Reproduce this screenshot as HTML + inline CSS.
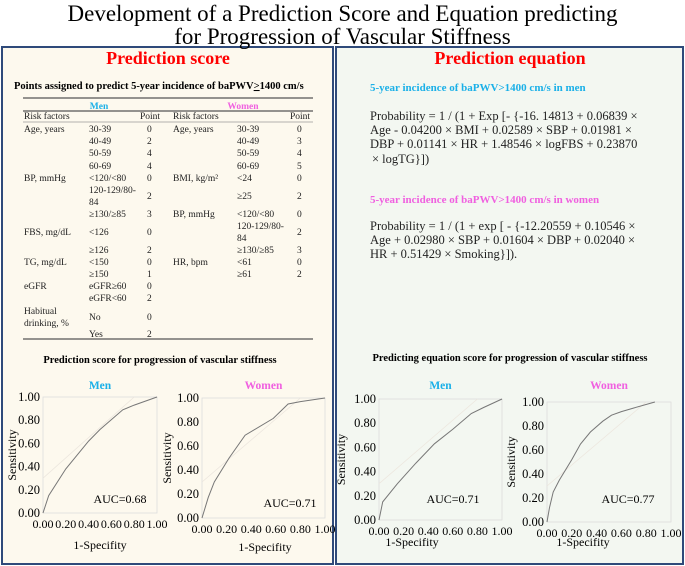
<!DOCTYPE html>
<html><head><meta charset="utf-8"><style>
html,body{margin:0;padding:0;background:#fff}
body{position:relative;width:685px;height:566px;overflow:hidden}
svg, svg text{font-family:"Liberation Serif","DejaVu Serif",serif}
.ov{position:absolute;left:0;width:685px;text-align:center;font-family:"Liberation Serif","DejaVu Serif",serif;white-space:nowrap;line-height:1}
</style></head><body>
<svg id="s" width="685" height="566" viewBox="0 0 685 566" style="position:absolute;left:0;top:0">
<rect x="2" y="47" width="331" height="517" fill="#fdf9ee" stroke="#2f4a7a" stroke-width="2"/>
<rect x="336" y="47" width="347" height="517" fill="#f3f7f1" stroke="#2f4a7a" stroke-width="2"/>
<text x="14" y="89" font-size="10.5" font-weight="bold">Points assigned to predict 5-year incidence of baPWV<tspan text-decoration="underline">&gt;</tspan>1400 cm/s</text>
<g id="tbl" font-size="9.5" fill="#222"></g>
<g font-size="12.5" fill="#222">
<text x="370" y="91" font-size="11" font-weight="bold" fill="#1ab0e8">5-year incidence of baPWV&gt;1400 cm/s in men</text>
<text x="370" y="120">Probability = 1 / (1 + Exp [- {-16. 14813 + 0.06839 ×</text>
<text x="370" y="134">Age - 0.04200 × BMI + 0.02589 × SBP + 0.01981 ×</text>
<text x="370" y="148">DBP + 0.01141 × HR + 1.48546 × logFBS + 0.23870</text>
<text x="372" y="163">× logTG}])</text>
<text x="370" y="203" font-size="11" font-weight="bold" fill="#f060e0">5-year incidence of baPWV&gt;1400 cm/s in women</text>
<text x="370" y="230">Probability = 1 / (1 + exp [ - {-12.20559 + 0.10546 ×</text>
<text x="370" y="244">Age + 0.02980 × SBP + 0.01604 × DBP + 0.02040 ×</text>
<text x="370" y="258">HR + 0.51429 × Smoking}]).</text>
</g>
<text x="160" y="363" font-size="10.5" font-weight="bold" text-anchor="middle">Prediction score for progression of vascular stiffness</text>
<text x="510" y="361" font-size="10.5" font-weight="bold" text-anchor="middle">Predicting equation score for progression of vascular stiffness</text>
<g id="charts"></g>
</svg>
<div class="ov" style="top:2px;font-size:23px">Development of a Prediction Score and Equation predicting</div>
<div class="ov" style="top:25px;font-size:23px">for Progression of Vascular Stiffness</div>
<div class="ov" style="top:49px;left:0;width:336px;font-size:18px;font-weight:bold;color:#f00">Prediction score</div>
<div class="ov" style="top:49px;left:336px;width:348px;font-size:18px;font-weight:bold;color:#f00">Prediction equation</div>
<script>
const NS='http://www.w3.org/2000/svg';
function mk(tag,attrs,parent,txt){const e=document.createElementNS(NS,tag);for(const k in attrs)e.setAttribute(k,attrs[k]);if(txt!==undefined)e.textContent=txt;parent.appendChild(e);return e;}
const tbl=document.getElementById('tbl');
const lines=[98,111,122,339];
lines.forEach((y,i)=>{const l=mk('line',{x1:23,x2:313,y1:y,y2:y,stroke:i==2?'#999':'#555','stroke-width':i==2?0.7:1.2},tbl);

});
const hdr=[[99,106,'Men','#1ab0e8'],[243,106,'Women','#f060e0']];
hdr.forEach(h=>{const t=mk('text',{x:h[0],y:h[1]+3,'text-anchor':'middle','font-weight':'bold',fill:h[3]},tbl,h[2]);

});
const cells=[[24,119,'Risk factors'],[140,119,'Point'],[173,119,'Risk factors'],[290,119,'Point'],
[24,132,'Age, years'],[89,132,'30-39'],[147,132,'0'],[173,132,'Age, years'],[237,132,'30-39'],[297,132,'0'],
[89,144,'40-49'],[147,144,'2'],[237,144,'40-49'],[297,144,'3'],
[89,156,'50-59'],[147,156,'4'],[237,156,'50-59'],[297,156,'4'],
[89,169,'60-69'],[147,169,'4'],[237,169,'60-69'],[297,169,'5'],
[24,181,'BP, mmHg'],[89,181,'<120/<80'],[147,181,'0'],[173,181,'BMI, kg/m²'],[237,181,'<24'],[297,181,'0'],
[89,193,'120-129/80-'],[89,205,'84'],[147,199,'2'],[237,199,'≥25'],[297,199,'2'],
[89,217,'≥130/≥85'],[147,217,'3'],[173,217,'BP, mmHg'],[237,217,'<120/<80'],[297,217,'0'],
[24,235,'FBS, mg/dL'],[89,235,'<126'],[147,235,'0'],[237,229,'120-129/80-'],[237,241,'84'],[297,235,'2'],
[89,253,'≥126'],[147,253,'2'],[237,253,'≥130/≥85'],[297,253,'3'],
[24,265,'TG, mg/dL'],[89,265,'<150'],[147,265,'0'],[173,265,'HR, bpm'],[237,265,'<61'],[297,265,'0'],
[89,277,'≥150'],[147,277,'1'],[237,277,'≥61'],[297,277,'2'],
[24,289,'eGFR'],[89,289,'eGFR≥60'],[147,289,'0'],
[89,301,'eGFR<60'],[147,301,'2'],
[24,314,'Habitual'],[24,326,'drinking, %'],[89,320,'No'],[147,320,'0'],
[89,337,'Yes'],[147,337,'2']];
cells.forEach(c=>{const t=mk('text',{x:c[0],y:c[1]},tbl,c[2]);

});

const ticks=['0.00','0.20','0.40','0.60','0.80','1.00'];
const tickVals=[0,0.2,0.4,0.6,0.8,1];
const menScoreX=[0,0.05,0.2,0.4,0.5,0.7,0.8,1];
const menScoreY=[0,0.15,0.38,0.62,0.72,0.89,0.93,1];
const womenScoreX=[0,0.05,0.1,0.22,0.35,0.58,0.7,0.8,1];
const womenScoreY=[0,0.17,0.3,0.5,0.69,0.83,0.95,0.97,1];
const menEqX=[0,0.03,0.15,0.3,0.45,0.6,0.75,0.85,1];
const menEqY=[0,0.15,0.3,0.47,0.63,0.75,0.88,0.93,1];
const womenEqX=[0,0.02,0.05,0.1,0.2,0.27,0.35,0.45,0.52,0.6,0.7,0.87];
const womenEqY=[0,0.12,0.25,0.35,0.52,0.65,0.75,0.84,0.89,0.92,0.95,1];
const aucLabels=['AUC=0.68','AUC=0.71','AUC=0.71','AUC=0.77'];

const charts=[
 {name:'score-men',x0:43,x1:157,y0:513,y1:397,title:'Men',col:'#1ab0e8',xs:menScoreX,ys:menScoreY,auc:aucLabels[0],ax:120,ay:503,xl:100,xly:549,sx:16},
 {name:'score-women',x0:202,x1:325,y0:518,y1:398,title:'Women',col:'#f060e0',xs:womenScoreX,ys:womenScoreY,auc:aucLabels[1],ax:290,ay:507,xl:265,xly:551,sx:171},
 {name:'equation-men',x0:379,x1:502,y0:520,y1:399,title:'Men',col:'#1ab0e8',xs:menEqX,ys:menEqY,auc:aucLabels[2],ax:453,ay:503,xl:412,xly:546,sx:345},
 {name:'equation-women',x0:547,x1:671,y0:522,y1:402,title:'Women',col:'#f060e0',xs:womenEqX,ys:womenEqY,auc:aucLabels[3],ax:628,ay:503,xl:583,xly:546,sx:515}
];
const root=document.getElementById('charts');
charts.forEach(c=>{
 const g=mk('g',{},root);
 
 
 const sx=v=>c.x0+v*(c.x1-c.x0), sy=v=>c.y0+v*(c.y1-c.y0);
 const fr=mk('rect',{x:c.x0,y:c.y1,width:c.x1-c.x0,height:c.y0-c.y1,fill:'none',stroke:'#ddd','stroke-width':0.8},g);
 
 
 const dg=mk('line',{x1:sx(0),y1:sy(0.3),x2:sx(0.8),y2:sy(1),stroke:'#ece6de','stroke-width':0.8},g);
 
 
 tickVals.forEach((v,i)=>{
  const ty=mk('text',{x:c.x0-3,y:sy(v)+4,'font-size':12.5,'text-anchor':'end'},g,ticks[i]);
  
  
  const tx=mk('text',{x:sx(v),y:c.y0+15,'font-size':12,'text-anchor':'middle'},g,ticks[i]);
  
  
 });
 const pts=c.xs.map((x,i)=>sx(x).toFixed(1)+','+sy(c.ys[i]).toFixed(1)).join(' ');
 const pl=mk('polyline',{points:pts,fill:'none',stroke:'#777','stroke-width':1},g);
 
 
 const t=mk('text',{x:(c.x0+c.x1)/2,y:389,'font-size':11.5,'font-weight':'bold',fill:c.col,'text-anchor':'middle'},g,c.title);
 
 
 const a=mk('text',{x:c.ax,y:c.ay,'font-size':12,'text-anchor':'middle'},g,c.auc);
 
 
 const xl=mk('text',{x:c.xl,y:c.xly,'font-size':12,'text-anchor':'middle'},g,'1-Specifity');
 
 
 const cy=(c.y0+c.y1)/2;
 const yl=mk('text',{x:c.sx,y:cy,'font-size':12,'text-anchor':'middle',transform:'rotate(-90 '+(c.sx)+' '+cy+')'},g,'Sensitivity');
 
 
});
</script>
</body></html>
